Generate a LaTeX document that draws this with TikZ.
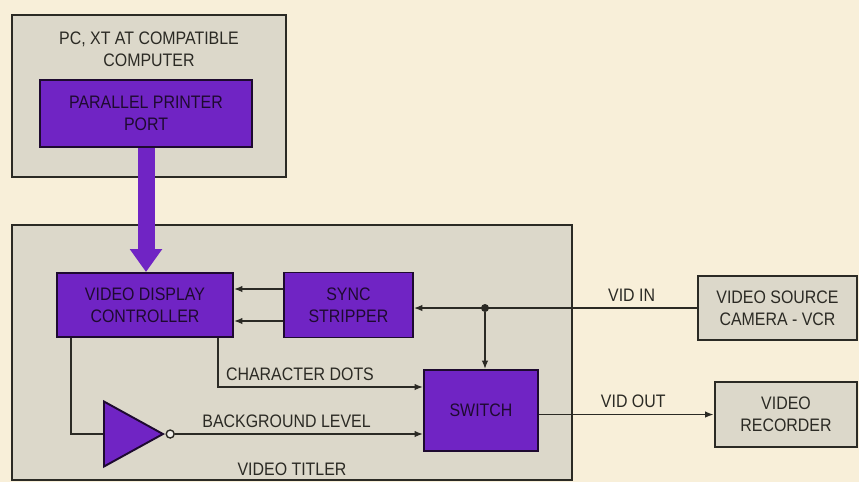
\documentclass[tikz,border=0pt]{standalone}
\usepackage{fontspec}
\setmainfont[FakeStretch=0.88]{Liberation Sans}
\usepackage{xcolor}
\usepackage{tikz}
\usetikzlibrary{arrows.meta,positioning,shapes.geometric}
\definecolor{vtPurple}{HTML}{7024C4}
\definecolor{vtGrey}{HTML}{DCD8CA}
\definecolor{vtPaper}{HTML}{F8EFD9}
\definecolor{vtInk}{HTML}{2B2A24}
\definecolor{vtDeep}{HTML}{1E0A30}
\tikzset{
  unit box/.style={draw=vtInk,line width=1.6pt,fill=vtGrey,inner sep=0pt},
  block/.style={draw=vtDeep,line width=1.1pt,fill=vtPurple,inner sep=0pt,align=center,
    font=\fontsize{10.3}{12.5}\selectfont,text=vtDeep},
  wire label/.style={font=\fontsize{10.3}{12.5}\selectfont,text=vtInk,align=center},
  junction/.style={circle,fill=vtInk,inner sep=0pt,minimum size=1.6mm},
  bubble/.style={circle,draw=vtInk,line width=0.8pt,fill=white!60!vtGrey,inner sep=0pt,minimum size=1.6mm},
  wire/.style={line width=0.8pt,draw=vtInk},
  signal arrow/.style={wire,-{Latex[length=1.7mm,width=1.3mm]}},
  bus arrow/.style={-{Triangle[length=4.6mm,width=6.2mm]},line width=3.4mm,draw=vtPurple}
}

\begin{document}
\begin{tikzpicture}[x=0.2mm,y=-0.2mm]
\useasboundingbox[fill=vtPaper] (0,0) rectangle (859,482);
% outer units
\node[unit box,minimum width=54.8mm,minimum height=32.4mm] (comp) at (149,96) {};
\node[wire label,below=2.4mm of comp.north] (compcap) {PC, XT AT COMPATIBLE\\COMPUTER};
\node[block,minimum width=42.4mm,minimum height=13.4mm] (port) at (146,113.5) {PARALLEL PRINTER\\PORT};
\node[unit box,minimum width=112mm,minimum height=51mm] (titler) at (292,352.5) {};
\node[wire label,above=0pt of titler.south] (titlercap) {VIDEO TITLER};
% titler blocks
\node[block,minimum width=35.2mm,minimum height=12.8mm] (vdc) at (145,305) {VIDEO DISPLAY\\CONTROLLER};
\node[block,minimum width=25.8mm,minimum height=13mm,right=9.8mm of vdc] (sync) {SYNC\\STRIPPER};
\node[block,minimum width=22.8mm,minimum height=16.2mm] (sw) at (481,410.5) {SWITCH};
\node[block,isosceles triangle,isosceles triangle stretches,minimum width=13mm,minimum height=11.8mm,anchor=west] (inv) at (103,434) {};
\node[bubble,right=0pt of inv.apex] (bub) {};
\node[junction] (tap) at (485,308) {};
% video gear
\node[unit box,minimum width=31.8mm,minimum height=12.8mm,wire label] (src) at (777.5,308) {VIDEO SOURCE\\CAMERA - VCR};
\node[unit box,minimum width=28.4mm,minimum height=13mm,wire label] (rec) at (786,414.5) {VIDEO\\RECORDER};
% connections
\draw[bus arrow] (port.south) -- (port.south |- vdc.north);
\draw[signal arrow] ([yshift=3.2mm]sync.west) -- ([yshift=3.2mm]sync.west -| vdc.east);
\draw[signal arrow] ([yshift=-3.2mm]sync.west) -- ([yshift=-3.2mm]sync.west -| vdc.east);
\draw[signal arrow] (src.west) -- (src.west -| sync.east) node[wire label,above,pos=0.23] {VID IN};
\draw[signal arrow] (tap) -- (tap |- sw.north);
\draw[signal arrow] ([xshift=-3.2mm]vdc.south east) |- ([yshift=4.7mm]sw.west) node[wire label,above,pos=0.7] {CHARACTER DOTS};
\draw[wire] ([xshift=3mm]vdc.south west) |- (inv.west);
\draw[signal arrow] (bub.east) -- (bub.east -| sw.west) node[wire label,above,pos=0.45] {BACKGROUND LEVEL};
\draw[signal arrow] (rec.west -| sw.east) -- (rec.west) node[wire label,above,pos=0.54] {VID OUT};
\end{tikzpicture}
\end{document}
